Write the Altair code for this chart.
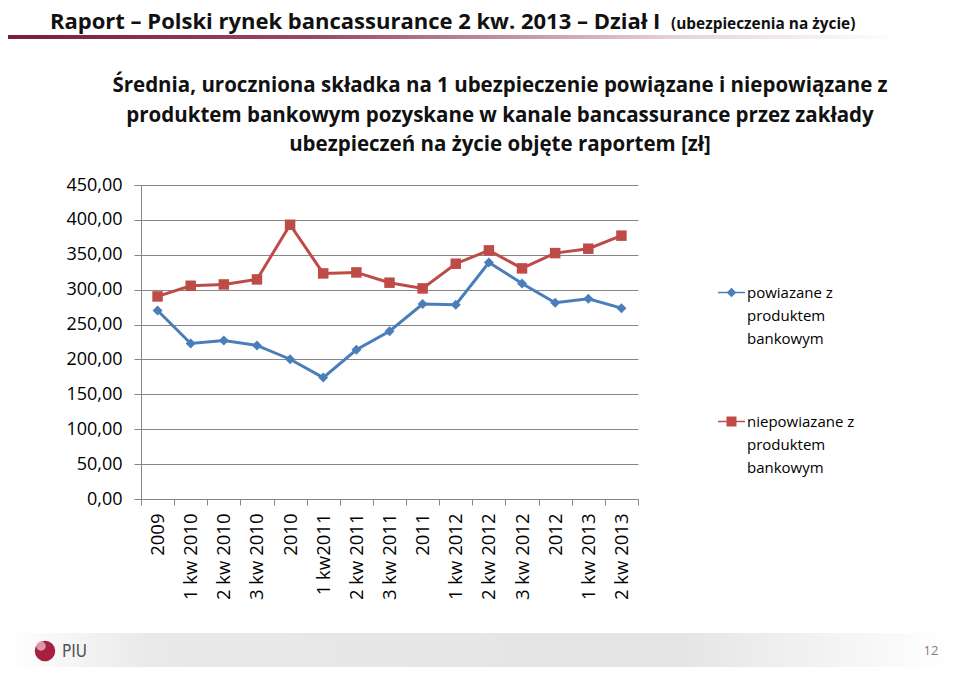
import altair as alt
import pandas as pd

CATEGORIES = ["2009", "1 kw 2010", "2 kw 2010", "3 kw 2010", "2010", "1 kw2011",
              "2 kw 2011", "3 kw 2011", "2011", "1 kw 2012", "2 kw 2012",
              "3 kw 2012", "2012", "1 kw 2013", "2 kw 2013"]
POWIAZANE = [270.2, 222.8, 227.3, 220.0, 200.3, 174.0, 213.8, 240.5, 279.3,
             278.4, 339.0, 308.9, 281.2, 287.0, 273.5]
NIEPOWIAZANE = [290.3, 305.6, 307.5, 314.7, 393.0, 323.3, 324.7, 310.0, 301.8,
                337.2, 356.3, 330.5, 352.4, 358.7, 377.4]
SERIES = ["powiazane z produktem bankowym", "niepowiazane z produktem bankowym"]
COLORS = ["#4A7EBB", "#BE4B48"]
Y_TICKS = [0, 50, 100, 150, 200, 250, 300, 350, 400, 450]

HEADER_MAIN = "Raport – Polski rynek bancassurance 2 kw. 2013 – Dział I"
HEADER_SUB = "(ubezpieczenia na życie)"
TITLE_LINES = ["Średnia, uroczniona składka na 1 ubezpieczenie powiązane i niepowiązane z",
               "produktem bankowym pozyskane w kanale bancassurance przez zakłady",
               "ubezpieczeń na życie objęte raportem [zł]"]
PAGE_NO = "12"
FONT = "Open Sans"

rows = []
for cat, a, b in zip(CATEGORIES, POWIAZANE, NIEPOWIAZANE):
    rows.append({"kategoria": cat, "seria": SERIES[0], "wartosc": a})
    rows.append({"kategoria": cat, "seria": SERIES[1], "wartosc": b})
df = pd.DataFrame(rows)

x = alt.X("kategoria:N", sort=CATEGORIES,
          scale=alt.Scale(type="band", paddingInner=0, paddingOuter=0),
          axis=alt.Axis(title=None, labelAngle=-90, labelAlign="right", labelBaseline="middle",
                        labelFont=FONT, labelFontSize=18.5, labelColor="#000000",
                        labelPadding=8, tickBand="extent", tickSize=6, tickColor="#868686",
                        domainColor="#868686", grid=False, labelOverlap=False))
y = alt.Y("wartosc:Q", scale=alt.Scale(domain=[0, 450], nice=False, zero=True),
          axis=alt.Axis(title=None, values=Y_TICKS,
                        labelExpr="replace(format(datum.value, '.2f'), '.', ',')",
                        labelFont=FONT, labelFontSize=18, labelColor="#000000",
                        labelPadding=12, tickSize=7, tickColor="#868686",
                        domainColor="#868686", gridColor="#868686", gridOpacity=1))
color_scale = alt.Scale(domain=SERIES, range=COLORS)

DIAMOND_LINE = "M-1,-0.06H1V0.06H-1Z M0,-0.36L0.36,0L0,0.36L-0.36,0Z"
SQUARE_LINE = "M-1,-0.06H1V0.06H-1Z M-0.37,-0.37H0.37V0.37H-0.37Z"

legend = alt.Legend(title=None, orient="none", legendX=577, legendY=94,
                    labelFont=FONT, labelFontSize=15, labelColor="#000000",
                    labelExpr="split(replace(replace(datum.label, ' z ', ' z|'), ' bankowym', '|bankowym'), '|')",
                    labelBaseline="middle", labelOffset=2, symbolSize=729,
                    rowPadding=61, labelLimit=300, symbolStrokeWidth=0)

base = alt.Chart(df)

lines = base.mark_line(strokeWidth=3).encode(
    x=x, y=y, color=alt.Color("seria:N", scale=color_scale, legend=legend))

pts1 = base.transform_filter(alt.datum.seria == SERIES[0]).mark_point(
    shape="diamond", filled=True, size=100, opacity=1).encode(
    x=x, y=y, color=alt.Color("seria:N", scale=color_scale, legend=legend))
pts2 = base.transform_filter(alt.datum.seria == SERIES[1]).mark_point(
    shape="square", filled=True, size=110, opacity=1).encode(
    x=x, y=y, color=alt.Color("seria:N", scale=color_scale, legend=legend))

leg_layer = base.transform_filter("false").mark_point(filled=True).encode(
    x=x, y=y,
    color=alt.Color("seria:N", scale=color_scale, legend=legend),
    shape=alt.Shape("seria:N", scale=alt.Scale(domain=SERIES, range=[DIAMOND_LINE, SQUARE_LINE]),
                    legend=legend))

one = alt.Data(values=[{"k": 1}])

header_bar = alt.Chart(one).mark_rect(
    color=alt.Gradient(gradient="linear", x1=0, x2=1, y1=0, y2=0,
                       stops=[alt.GradientStop(offset=0, color="#7A1C3B"),
                              alt.GradientStop(offset=0.35, color="#9B4A63"),
                              alt.GradientStop(offset=0.75, color="#E6D3D9"),
                              alt.GradientStop(offset=1, color="#FFFFFF")])
).encode(x=alt.value(-133), x2=alt.value(760), y=alt.value(-150), y2=alt.value(-146))

header_main = alt.Chart(one).mark_text(
    font=FONT, fontSize=22, fontWeight="bold", align="left", baseline="alphabetic",
    color="#111111").encode(x=alt.value(-91), y=alt.value(-156), text=alt.value(HEADER_MAIN))
header_sub = alt.Chart(one).mark_text(
    font=FONT, fontSize=15.4, fontWeight="bold", align="left", baseline="alphabetic",
    color="#111111").encode(x=alt.value(530), y=alt.value(-156), text=alt.value(HEADER_SUB))

title = alt.Chart(one).mark_text(
    font=FONT, fontSize=20.5, fontWeight="bold", align="center", baseline="alphabetic",
    lineHeight=29.5, color="#111111").encode(
    x=alt.value(359), y=alt.value(-93), text=alt.value(TITLE_LINES))

footer_band = alt.Chart(one).mark_rect(
    color=alt.Gradient(gradient="linear", x1=0, x2=1, y1=0, y2=0,
                       stops=[alt.GradientStop(offset=0, color="#FFFFFF"),
                              alt.GradientStop(offset=0.15, color="#E9E9E9"),
                              alt.GradientStop(offset=0.7, color="#E4E4E4"),
                              alt.GradientStop(offset=1, color="#FFFFFF")])
).encode(x=alt.value(-133), x2=alt.value(811), y=alt.value(448), y2=alt.value(487))

logo = alt.Chart(one).mark_point(shape="circle", filled=True, size=420, color="#A6213F",
                                 opacity=1).encode(x=alt.value(-96), y=alt.value(466))
logo_hl = alt.Chart(one).mark_point(shape="circle", filled=True, size=90, color="#E7B7C2",
                                    opacity=0.8).encode(x=alt.value(-100), y=alt.value(461))
logo_text = alt.Chart(one).mark_text(font="DejaVu Sans Condensed", fontSize=17, align="left",
                                     baseline="middle", color="#555555").encode(
    x=alt.value(-79), y=alt.value(467), text=alt.value("PIU"))
page_no = alt.Chart(one).mark_text(font=FONT, fontSize=13, align="center", baseline="middle",
                                   color="#7F7F7F").encode(
    x=alt.value(790), y=alt.value(466), text=alt.value(PAGE_NO))

chart = alt.layer(
    header_bar, header_main, header_sub, title, footer_band, logo, logo_hl, logo_text, page_no,
    lines, pts1, pts2, leg_layer
).properties(
    width=497, height=314,
    padding={"left": 133, "top": 177, "right": 314, "bottom": 168},
    autosize=alt.AutoSizeParams(type="none"),
    background="white"
).configure(
    view=alt.ViewConfig(stroke=None),
    style={"guide-label": {"lineHeight": 23}}
)

chart.save("out.html", embed_options={"renderer": "svg", "actions": False})
